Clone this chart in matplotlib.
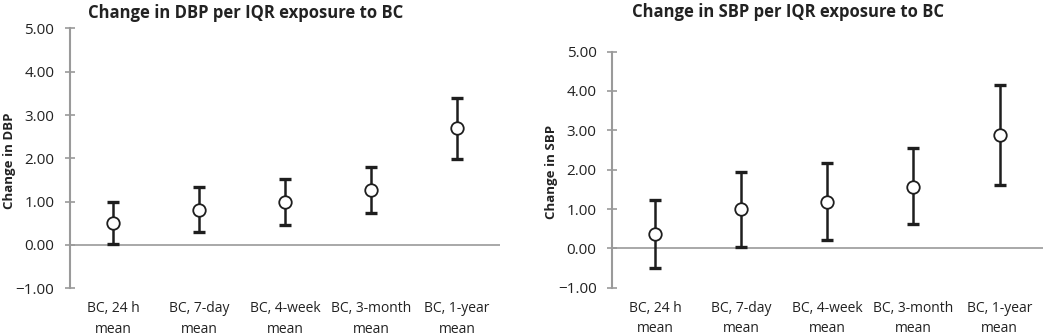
import matplotlib
matplotlib.use("Agg")
import matplotlib.pyplot as plt
import numpy as np

plt.rcParams['font.family'] = ['Open Sans', 'DejaVu Sans']

categories = ["BC, 24 h\nmean", "BC, 7-day\nmean", "BC, 4-week\nmean", "BC, 3-month\nmean", "BC, 1-year\nmean"]

dbp_est = [0.51, 0.81, 1.00, 1.26, 2.69]
dbp_low = [0.02, 0.30, 0.46, 0.74, 1.99]
dbp_high = [0.98, 1.34, 1.52, 1.81, 3.39]

sbp_est = [0.36, 1.00, 1.17, 1.57, 2.88]
sbp_low = [-0.49, 0.04, 0.21, 0.62, 1.60]
sbp_high = [1.23, 1.93, 2.16, 2.54, 4.14]

yticks = [-1, 0, 1, 2, 3, 4, 5]

fig = plt.figure(figsize=(10.5, 3.35), dpi=100)
ax1 = fig.add_axes([0.0667, 0.140, 0.4095, 0.775])
ax2 = fig.add_axes([0.583, 0.141, 0.410, 0.705])

gray = '#9a9a9a'
txt = '#222222'

def fmt(v):
    s = f"{abs(v):.2f}"
    return ("\u2212" + s) if v < 0 else s

def draw(ax, est, low, high):
    x = np.arange(len(est))
    est = np.array(est); low = np.array(low); high = np.array(high)
    yerr = np.vstack([est - low, high - est])
    ax.axhline(0, color=gray, linewidth=1.2, zorder=1)
    ax.errorbar(x, est, yerr=yerr, fmt='none', ecolor='#1e1e1e', elinewidth=1.8,
                capsize=4.5, capthick=2.4, zorder=3)
    ax.plot(x, est, 'o', markersize=9, markerfacecolor='white',
            markeredgecolor='#1e1e1e', markeredgewidth=1.3, zorder=4)
    ax.set_xlim(-0.5, len(est) - 0.5)
    ax.set_ylim(-1, 5)
    ax.set_yticks(yticks)
    ax.set_yticklabels([fmt(v) for v in yticks])
    ax.set_xticks(x)
    ax.set_xticklabels(categories, fontsize=10, color=txt, linespacing=1.5)
    ax.tick_params(axis='x', length=0, pad=9.5)
    ax.tick_params(axis='y', direction='inout', length=6.5, width=1.2, color=gray,
                   labelsize=11, labelcolor=txt, pad=8)
    for s in ['top', 'right', 'bottom']:
        ax.spines[s].set_visible(False)
    ax.spines['left'].set_color(gray)
    ax.spines['left'].set_linewidth(1.5)

draw(ax1, dbp_est, dbp_low, dbp_high)
draw(ax2, sbp_est, sbp_low, sbp_high)

fig.text(10/1050, 1 - 161/335, "Change in DBP", rotation=90, ha='center', va='center',
         fontsize=9.5, fontweight='bold', color=txt)
fig.text(551.5/1050, 1 - 171.5/335, "Change in SBP", rotation=90, ha='center', va='center',
         fontsize=9.5, fontweight='bold', color=txt)

fig.text(246/1050, 1 - 13/335, "Change in DBP per IQR exposure to BC", ha='center', va='center',
         fontsize=12, fontweight='bold', color=txt)
fig.text(788/1050, 1 - 12/335, "Change in SBP per IQR exposure to BC", ha='center', va='center',
         fontsize=12, fontweight='bold', color=txt)

fig.savefig("out.png", dpi=100)
